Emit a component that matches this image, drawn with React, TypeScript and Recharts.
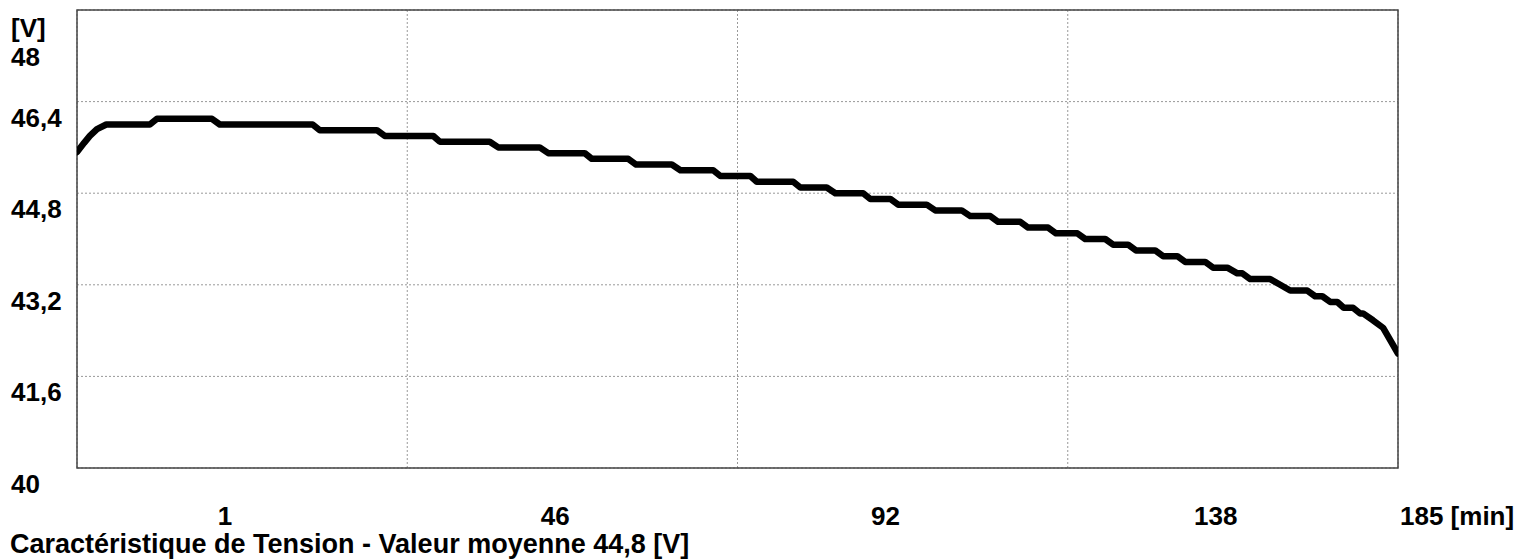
import React from 'react';
import { LineChart, Line, XAxis, YAxis, CartesianGrid, ReferenceArea } from 'recharts';

// time in minutes
const times = [
  0, 1.0, 1.8, 2.8, 4.1, 10.2, 11.2, 18.9, 20.0, 33.0, 34.0, 42.0, 43.1, 49.9, 50.8,
  57.8, 59.0, 64.8, 66.0, 71.1, 72.1, 77.2, 78.3, 83.3, 84.5, 89.1, 90.1, 94.3, 95.2,
  100.3, 101.3, 105.0, 106.2, 110.1, 111.1, 113.9, 115.0, 119.0, 120.2, 123.9, 125.1,
  127.9, 129.0, 132.1, 133.2, 136.0, 137.1, 140.1, 141.2, 144.0, 145.1, 147.2, 148.3,
  151.0, 152.1, 154.1, 155.2, 158.0, 159.1, 161.1, 162.5, 163.2, 164.3, 167.1, 168.5,
  169.9, 172.3, 173.4, 174.4, 175.5, 176.5, 177.4, 178.7, 179.7, 180.1, 181.5, 182.9, 185,
];

// voltage in V
const volts = [
  45.52, 45.68, 45.8, 45.92, 46.0, 46.0, 46.1, 46.1, 46.0, 46.0, 45.9, 45.9, 45.8, 45.8, 45.7,
  45.7, 45.6, 45.6, 45.5, 45.5, 45.4, 45.4, 45.3, 45.3, 45.2, 45.2, 45.1, 45.1, 45.0,
  45.0, 44.9, 44.9, 44.8, 44.8, 44.7, 44.7, 44.6, 44.6, 44.5, 44.5, 44.4,
  44.4, 44.3, 44.3, 44.2, 44.2, 44.1, 44.1, 44.0, 44.0, 43.9, 43.9, 43.8,
  43.8, 43.7, 43.7, 43.6, 43.6, 43.5, 43.5, 43.4, 43.4, 43.3, 43.3, 43.2,
  43.1, 43.1, 43.0, 43.0, 42.9, 42.9, 42.8, 42.8, 42.7, 42.7, 42.58, 42.45, 42.0,
];

const yTicks = [40, 41.6, 43.2, 44.8, 46.4, 48];
const xTicks = [0, 46.25, 92.5, 138.75, 185];
const xTickLabels = ['1', '46', '92', '138', '185 [min]'];
const yUnit = '[V]';
const title = 'Caractéristique de Tension - Valeur moyenne 44,8 [V]';

const data = times.map((t, i) => ({ t, v: volts[i] }));

const FONT = '"Liberation Sans", Arial, sans-serif';
const FS = 26;

const YTick = (props: any) => {
  const { x, y, payload } = props;
  const val: number = payload.value;
  const label = String(val).replace('.', ',');
  const tx = x - 66;
  if (val === 48) {
    return (
      <g>
        <text x={tx} y={y + 27} fontFamily={FONT} fontSize={FS} fontWeight="bold" fill="#000">{yUnit}</text>
        <text x={tx} y={y + 56} fontFamily={FONT} fontSize={FS} fontWeight="bold" fill="#000">{label}</text>
      </g>
    );
  }
  return (
    <text x={tx} y={y + 25} fontFamily={FONT} fontSize={FS} fontWeight="bold" fill="#000">{label}</text>
  );
};

const XTick = (props: any) => {
  const { x, y, index } = props;
  const label = xTickLabels[index];
  const last = index === xTickLabels.length - 1;
  return (
    <text
      x={last ? x + 2 : x + 148}
      y={y + 57}
      textAnchor={last ? 'start' : 'middle'}
      fontFamily={FONT}
      fontSize={FS}
      fontWeight="bold"
      fill="#000"
    >
      {label}
    </text>
  );
};

export default function App() {
  return (
    <div style={{ position: 'absolute', left: 0, top: 0, width: 1521, height: 560, background: '#fff' }}>
      <LineChart width={1521} height={560} data={data} margin={{ top: 10, right: 123, bottom: 0, left: 0 }}>
        <CartesianGrid stroke="#999" strokeDasharray="2 2" strokeWidth={1} />
        <XAxis
          dataKey="t"
          type="number"
          domain={[0, 185]}
          ticks={xTicks}
          tick={<XTick />}
          tickLine={false}
          axisLine={false}
          tickSize={0}
          tickMargin={0}
          height={92}
          interval={0}
          allowDataOverflow
        />
        <YAxis
          type="number"
          domain={[40, 48]}
          ticks={yTicks}
          tick={<YTick />}
          tickLine={false}
          axisLine={false}
          tickSize={0}
          tickMargin={0}
          width={77}
          interval={0}
          allowDataOverflow
        />
        <ReferenceArea x1={0} x2={185} y1={40} y2={48} fill="none" stroke="#444" strokeWidth={1.5} ifOverflow="visible" />
        <Line
          type="linear"
          dataKey="v"
          stroke="#000"
          strokeWidth={6.5}
          dot={false}
          strokeLinejoin="round"
          strokeLinecap="round"
          isAnimationActive={false}
        />
      </LineChart>
      <svg width={1521} height={560} style={{ position: 'absolute', left: 0, top: 0, pointerEvents: 'none' }}>
        <text x={10} y={553} fontFamily={FONT} fontSize={27} fontWeight="bold" fill="#000">{title}</text>
      </svg>
    </div>
  );
}
